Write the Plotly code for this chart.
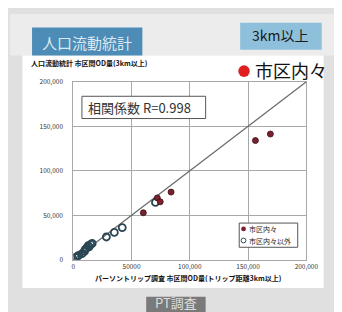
import plotly.graph_objects as go

W, H = 342, 312

# data
red_x = [60100, 72100, 74600, 83900, 156300, 169100]
red_y = [52900, 69600, 65200, 76100, 134000, 141300]
open_x = [1900, 3500, 4600, 7500, 9600, 10100, 11500, 12800, 13500, 15000, 16200, 28400, 35200, 42000, 70500]
open_y = [2900, 4000, 5100, 7000, 9500, 11600, 13400, 16000, 14500, 17400, 18500, 25700, 30800, 36200, 64500]
line_x = [0, 200000]
line_y = [0, 200000]
x_tickvals = [0, 50000, 100000, 150000, 200000]
x_ticktext = ["0", "50000", "100,000", "150,000", "200,000"]
y_tickvals = [0, 50000, 100000, 150000, 200000]
y_ticktext = ["0", "50,000", "100,000", "150,000", "200,000"]
legend_labels = ["市区内々", "市区内々以外"]

JP = "Noto Sans CJK JP"

def px(x):
    return x / W

def py(y):
    return 1 - y / H

fig = go.Figure()
fig.add_trace(go.Scatter(x=line_x, y=line_y, mode="lines",
                         line=dict(color="#6a6a6a", width=1.2), showlegend=False, hoverinfo="skip"))
fig.add_trace(go.Scatter(x=open_x, y=open_y, mode="markers", name=legend_labels[1],
                         marker=dict(symbol="circle-open", size=7, color="#2a4654", line=dict(width=1.8)),
                         showlegend=False))
fig.add_trace(go.Scatter(x=red_x, y=red_y, mode="markers", name=legend_labels[0],
                         marker=dict(size=6, color="#7a2030", line=dict(color="#3a1018", width=0.8)),
                         showlegend=False))

shapes = []
shapes.append(dict(type="rect", xref="paper", yref="paper", x0=px(0), x1=px(342), y0=py(43), y1=py(0),
                   fillcolor="#ececec", line_width=0, layer="below"))
shapes.append(dict(type="rect", xref="paper", yref="paper", x0=px(13), x1=px(327), y0=py(283), y1=py(43),
                   fillcolor="#ffffff", line_width=0, layer="below"))
shapes.append(dict(type="rect", xref="paper", yref="paper", x0=px(23), x1=px(138), y0=py(43), y1=py(14),
                   fillcolor="#4c8cb6", line_width=0))
shapes.append(dict(type="rect", xref="paper", yref="paper", x0=px(240), x1=px(325), y0=py(37), y1=py(9),
                   fillcolor="#8ec0dc", line_width=0))
shapes.append(dict(type="rect", xref="paper", yref="paper", x0=px(142), x1=px(204), y0=py(312), y1=py(292),
                   fillcolor="#7a7a7a", line_width=0))
shapes.append(dict(type="rect", xref="paper", yref="paper", x0=px(75), x1=px(204), y0=py(108), y1=py(85),
                   fillcolor="#ffffff", line=dict(color="#555555", width=1)))
shapes.append(dict(type="rect", xref="paper", yref="paper", x0=px(239), x1=px(300), y0=py(241), y1=py(216),
                   fillcolor="#ffffff", line=dict(color="#555555", width=1)))
shapes.append(dict(type="circle", xref="paper", yref="paper", x0=px(238), x1=px(250), y0=py(65), y1=py(53),
                   fillcolor="#e02020", line_width=0))
shapes.append(dict(type="circle", xref="paper", yref="paper", x0=px(241), x1=px(246), y0=py(224.5), y1=py(219.5),
                   fillcolor="#7a2030", line_width=0))
shapes.append(dict(type="circle", xref="paper", yref="paper", x0=px(241), x1=px(246), y0=py(236.5), y1=py(231.5),
                   fillcolor="#ffffff", line=dict(color="#2c4a58", width=1)))

ann = []
def txt(x, y, s, size, color="#222222", xanchor="center", bold=False):
    ann.append(dict(x=px(x), y=py(y), xref="paper", yref="paper", text=("<b>%s</b>" % s) if bold else s,
                    showarrow=False, xanchor=xanchor, yanchor="middle",
                    font=dict(family=JP, size=size, color=color)))

txt(80, 29, "人口流動統計", 15, "#dbe9f3")
txt(282, 22, "3km以上", 14, "#1a1a1a")
txt(253, 58, "市区内々", 18, "#111111", xanchor="left")
txt(20, 51, "人口流動統計 市区間OD量(3km以上)", 7, "#111111", xanchor="left", bold=True)
txt(79, 97, "相関係数 R=0.998", 13, "#333333", xanchor="left")
txt(247, 222, legend_labels[0], 7, "#222222", xanchor="left")
txt(247, 234, legend_labels[1], 7, "#222222", xanchor="left")
txt(186, 273, "パーソントリップ調査 市区間OD量(トリップ距離3km以上)", 7, "#111111", bold=True)
txt(173, 298, "PT調査", 13, "#dddddd")

fig.update_layout(
    width=W, height=H,
    margin=dict(l=0, r=0, t=0, b=0),
    paper_bgcolor="#e0e0e0",
    plot_bgcolor="#ffffff",
    shapes=shapes,
    annotations=ann,
    xaxis=dict(domain=[px(66), px(309)], range=[0, 200000], tickvals=x_tickvals, ticktext=x_ticktext,
               showgrid=True, gridcolor="#a8a8a8", gridwidth=1, zeroline=False,
               showline=True, linecolor="#a8a8a8", mirror=True,
               tickfont=dict(family=JP, size=6.5, color="#333333"), ticks=""),
    yaxis=dict(domain=[py(254), py(70)], range=[0, 200000], tickvals=y_tickvals, ticktext=y_ticktext,
               showgrid=True, gridcolor="#a8a8a8", gridwidth=1, zeroline=False,
               showline=True, linecolor="#a8a8a8", mirror=True,
               tickfont=dict(family=JP, size=6.5, color="#333333"), ticks="outside", ticklen=8,
               tickcolor="#ffffff"),
)

fig.write_html("out.html")
